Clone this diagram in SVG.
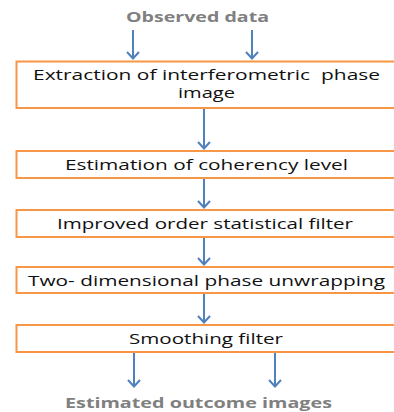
<svg xmlns="http://www.w3.org/2000/svg" width="394" height="412" viewBox="0 0 394 412">
<style>
.box{fill:#fff;stroke:#F79646;stroke-width:2}
.t{font-family:"Open Sans","Liberation Sans",sans-serif;font-size:14px;fill:#111}
.g{font-family:"Open Sans","Liberation Sans",sans-serif;font-size:14px;font-weight:bold;fill:#808080}
.c{stroke:#4F81BD;stroke-width:2;fill:none;marker-end:url(#ah)}
</style>
<defs>
<marker id="ah" viewBox="0 0 9 14" refX="8" refY="7" markerWidth="9" markerHeight="14" markerUnits="userSpaceOnUse" orient="auto">
<path d="M1,1 L7.5,7 L1,13" fill="none" stroke="#4F81BD" stroke-width="2"/>
</marker>
</defs>
<rect width="394" height="412" fill="#fff"/>
<g id="observed"><text class="g" x="126" y="22" textLength="143" lengthAdjust="spacingAndGlyphs">Observed data</text></g>
<g id="n1"><rect class="box" x="16.5" y="61.5" width="390" height="46.5"/>
<text class="t" x="33" y="80" textLength="347" lengthAdjust="spacingAndGlyphs" style="white-space:pre">Extraction of interferometric  phase</text>
<text class="t" x="178" y="98" textLength="57" lengthAdjust="spacingAndGlyphs">image</text></g>
<g id="n2"><rect class="box" x="16.5" y="151" width="390" height="27"/>
<text class="t" x="65" y="170" textLength="283" lengthAdjust="spacingAndGlyphs">Estimation of coherency level</text></g>
<g id="n3"><rect class="box" x="16.5" y="210" width="390" height="27"/>
<text class="t" x="57" y="229" textLength="296" lengthAdjust="spacingAndGlyphs">Improved order statistical filter</text></g>
<g id="n4"><rect class="box" x="16.5" y="267" width="390" height="26"/>
<text class="t" x="28" y="286" textLength="357" lengthAdjust="spacingAndGlyphs">Two- dimensional phase unwrapping</text></g>
<g id="n5"><rect class="box" x="16.5" y="325" width="390" height="27"/>
<text class="t" x="129" y="344" textLength="154" lengthAdjust="spacingAndGlyphs">Smoothing filter</text></g>
<g id="estimated"><text class="g" x="65" y="408" textLength="267" lengthAdjust="spacingAndGlyphs">Estimated outcome images</text></g>
<g id="connectors">
<line class="c" x1="133" y1="30" x2="133" y2="59"/>
<line class="c" x1="252" y1="30" x2="252" y2="59"/>
<line class="c" x1="204" y1="109" x2="204" y2="149"/>
<line class="c" x1="204" y1="179" x2="204" y2="208"/>
<line class="c" x1="204" y1="238" x2="204" y2="265"/>
<line class="c" x1="204" y1="294" x2="204" y2="323"/>
<line class="c" x1="134" y1="353" x2="134" y2="387"/>
<line class="c" x1="275" y1="353" x2="275" y2="387"/>
</g>
</svg>
